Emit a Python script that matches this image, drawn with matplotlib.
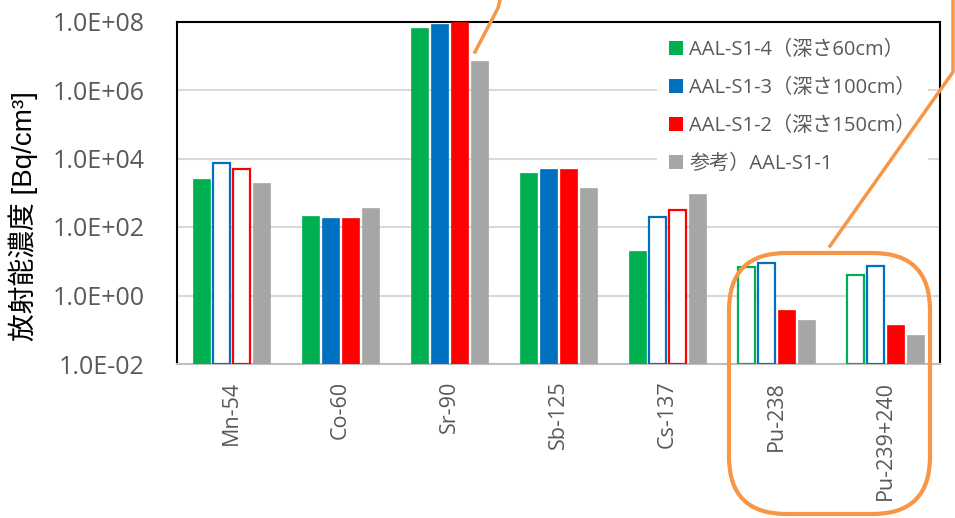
import matplotlib
matplotlib.use("Agg")
import matplotlib.pyplot as plt
import numpy as np
from matplotlib.patches import FancyBboxPatch
from matplotlib.lines import Line2D
from matplotlib.ticker import FixedLocator, FuncFormatter

plt.rcParams['font.family'] = ['Open Sans', 'Noto Sans CJK JP', 'DejaVu Sans']

nuclides = ["Mn-54", "Co-60", "Sr-90", "Sb-125", "Cs-137", "Pu-238", "Pu-239+240"]
series_names = ["AAL-S1-4（深さ60cm）", "AAL-S1-3（深さ100cm）",
                "AAL-S1-2（深さ150cm）", "参考）AAL-S1-1"]
series_colors = ["#00B050", "#0070C0", "#FF0000", "#A6A6A6"]

s1_4 = [2.5e3, 2.1e2, 6.5e7, 3.7e3, 2.0e1, 6.8e0, 4.1e0]
s1_3 = [7.4e3, 1.8e2, 8.5e7, 4.9e3, 1.95e2, 9.1e0, 7.1e0]
s1_2 = [4.9e3, 1.8e2, 1.0e8, 4.9e3, 3.2e2, 3.7e-1, 1.4e-1]
s1_1 = [1.9e3, 3.6e2, 7.0e6, 1.4e3, 9.1e2, 1.9e-1, 7.1e-2]

# True where the value is a detection limit (drawn as an outlined bar)
lim_4 = [False, False, False, False, False, True, True]
lim_3 = [True, False, False, False, True, True, True]
lim_2 = [True, False, False, False, True, False, False]
lim_1 = [False, False, False, False, False, False, False]

series_values = [s1_4, s1_3, s1_2, s1_1]
series_limits = [lim_4, lim_3, lim_2, lim_1]

W, H = 955, 518
fig = plt.figure(figsize=(W / 100, H / 100), dpi=100)
ax = fig.add_axes([177 / W, (H - 364) / H, (940 - 177) / W, (364 - 21.5) / H])

x = np.arange(len(nuclides))
step = 0.1835
bw = 0.158
floor = 1e-2
for k, (vals, lims, col, name) in enumerate(zip(series_values, series_limits,
                                                  series_colors, series_names)):
    pos = x + (k - 1.5) * step
    for p, v, lim in zip(pos, vals, lims):
        if lim:
            ax.bar(p, v - floor, bottom=floor, width=bw, facecolor="white",
                   edgecolor=col, linewidth=1.6, zorder=3)
        else:
            ax.bar(p, v - floor, bottom=floor, width=bw, facecolor=col,
                   edgecolor=col, linewidth=0.5, zorder=3)
    ax.bar(np.nan, 1, color=col, label=name)

ax.set_yscale("log")
ax.set_ylim(1e-2, 1e8)
ax.set_xlim(-0.5, len(nuclides) - 0.5)
ax.yaxis.set_major_locator(FixedLocator([1e-2, 1e0, 1e2, 1e4, 1e6, 1e8]))
ax.yaxis.set_minor_locator(FixedLocator([]))


def sci(v, _):
    e = int(round(np.log10(v)))
    return f"1.0E{'+' if e >= 0 else '-'}{abs(e):02d}"


ax.yaxis.set_major_formatter(FuncFormatter(sci))
ax.set_xticks(x)
ax.set_xticklabels(nuclides, rotation=90)
ax.tick_params(axis="y", length=0, pad=23, labelsize=18, labelcolor="#595959")
ax.tick_params(axis="x", length=0, pad=12, labelsize=15.5, labelcolor="#595959")

ax.grid(axis="y", color="#D9D9D9", linewidth=1.5, zorder=0)
ax.set_axisbelow(True)
for side in ("left", "top", "right"):
    ax.spines[side].set_color("black")
    ax.spines[side].set_linewidth(1.5)
ax.spines["bottom"].set_color("#BFBFBF")
ax.spines["bottom"].set_linewidth(1.5)

fig.text(23 / W, 1 - 216 / H, "放射能濃度 [Bq/cm³]", rotation=90,
         ha="center", va="center", fontsize=20, color="black",
         family=['Liberation Sans', 'Noto Sans CJK JP', 'DejaVu Sans'])

leg = ax.legend(loc="upper left", bbox_to_anchor=(0.629, 0.982), frameon=True,
                fontsize=14.5, handlelength=0.7, handleheight=0.7,
                handletextpad=0.3, labelspacing=0.9, borderaxespad=0.0,
                borderpad=0.6)
leg.get_frame().set_edgecolor("none")
leg.get_frame().set_facecolor("white")
leg.get_frame().set_alpha(1)
for t in leg.get_texts():
    t.set_color("#595959")

# Orange callouts
orange = "#F79646"
box = FancyBboxPatch((729 / W, (H - 514) / H), (930 - 729) / W, (514 - 253) / H,
                     boxstyle="round,pad=0,rounding_size=0.06",
                     transform=fig.transFigure, fill=False, edgecolor=orange,
                     linewidth=3, zorder=10, mutation_aspect=W / H)
fig.add_artist(box)
pts1 = np.array([[475, 52], [498, 8], [500, 0]])
fig.add_artist(Line2D(pts1[:, 0] / W, 1 - pts1[:, 1] / H, transform=fig.transFigure,
                      color=orange, linewidth=2.5, zorder=10))
pts2 = np.array([[830, 246], [953, 72], [953, 0]])
fig.add_artist(Line2D(pts2[:, 0] / W, 1 - pts2[:, 1] / H, transform=fig.transFigure,
                      color=orange, linewidth=2.5, zorder=10))

fig.savefig("out.png", dpi=100)
